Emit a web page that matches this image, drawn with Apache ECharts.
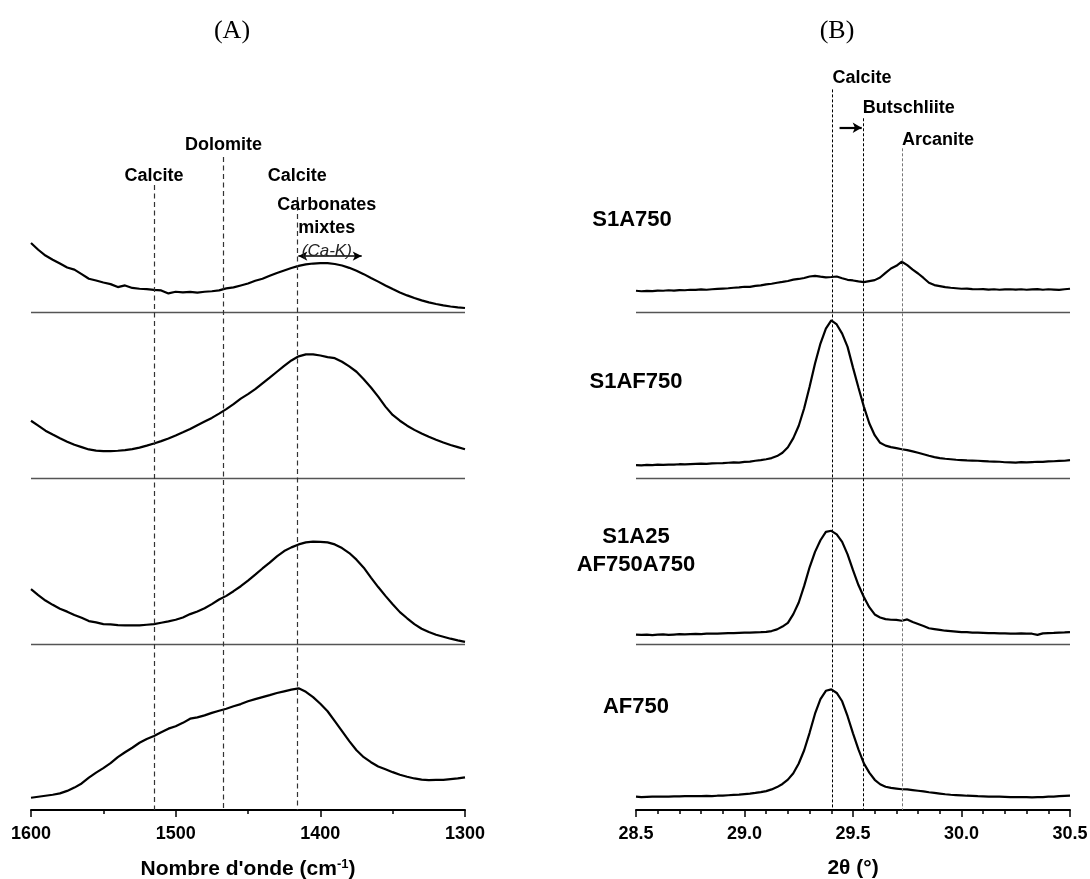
<!DOCTYPE html>
<html><head><meta charset="utf-8">
<script src="https://cdn.jsdelivr.net/npm/echarts@6/dist/echarts.min.js"></script>
<style>html,body{margin:0;padding:0;background:#fff}#c{width:1090px;height:879px}</style>
</head><body><div id="c"></div>
<script>
// ---------- DATA ----------
const sampleNames = ['S1A750', 'S1AF750', 'S1A25\nAF750A750', 'AF750'];
const stackOffsets = [3, 2, 1, 0];

// Panel A : FTIR, wavenumber (cm-1)
const ftirWavenumber = [1600,1595,1590,1585,1580,1575,1570,1565,1560,1555,1550,1545,1540,1535,1530,1525,1520,1515,1510,1505,1500,1495,1490,1485,1480,1475,1470,1465,1460,1455,1450,1445,1440,1435,1430,1425,1420,1415,1410,1405,1400,1395,1390,1385,1380,1375,1370,1365,1360,1355,1350,1345,1340,1335,1330,1325,1320,1315,1310,1305,1300];
const ftirS1A750 = [.416,.375,.340,.315,.292,.268,.255,.228,.200,.190,.178,.168,.150,.160,.145,.140,.138,.133,.130,.112,.122,.118,.121,.117,.122,.125,.130,.142,.148,.160,.172,.188,.200,.218,.235,.250,.265,.278,.287,.292,.295,.294,.289,.280,.266,.248,.228,.205,.183,.160,.138,.118,.100,.084,.070,.058,.048,.040,.033,.028,.024];
const ftirS1AF750 = [.345,.315,.285,.262,.240,.219,.200,.186,.172,.165,.162,.162,.164,.168,.174,.183,.195,.208,.222,.238,.256,.275,.295,.318,.340,.362,.388,.415,.445,.478,.505,.535,.570,.605,.640,.675,.708,.733,.745,.745,.738,.728,.722,.700,.672,.640,.595,.545,.490,.430,.380,.345,.315,.290,.268,.248,.230,.214,.199,.186,.173];
const ftirS1A25 = [.330,.295,.262,.236,.212,.195,.175,.158,.138,.130,.120,.118,.114,.112,.113,.112,.116,.120,.128,.136,.146,.160,.180,.196,.215,.240,.268,.290,.318,.348,.382,.418,.455,.490,.528,.560,.582,.600,.612,.617,.615,.612,.600,.578,.548,.508,.460,.400,.343,.290,.240,.192,.155,.120,.092,.072,.056,.044,.032,.022,.013];
const ftirAF750 = [.074,.080,.086,.092,.100,.115,.135,.160,.195,.225,.252,.282,.318,.348,.375,.405,.428,.446,.468,.490,.505,.525,.550,.558,.570,.585,.598,.610,.625,.638,.655,.668,.680,.692,.705,.715,.725,.733,.712,.680,.640,.595,.535,.475,.415,.360,.318,.288,.262,.245,.228,.212,.200,.190,.183,.180,.181,.182,.186,.190,.197];
const ftirRefPositions = [1515, 1467, 1416];
const ftirRefNames = ['Calcite', 'Dolomite', 'Calcite'];

// Panel B : XRD, 2theta (deg)
const drxTwoTheta = [28.5,28.525,28.55,28.575,28.6,28.625,28.65,28.675,28.7,28.725,28.75,28.775,28.8,28.825,28.85,28.875,28.9,28.925,28.95,28.975,29.0,29.025,29.05,29.075,29.1,29.125,29.15,29.175,29.2,29.225,29.25,29.275,29.3,29.325,29.35,29.375,29.4,29.425,29.45,29.475,29.5,29.525,29.55,29.575,29.6,29.625,29.65,29.675,29.7,29.725,29.75,29.775,29.8,29.825,29.85,29.875,29.9,29.925,29.95,29.975,30.0,30.025,30.05,30.075,30.1,30.125,30.15,30.175,30.2,30.225,30.25,30.275,30.3,30.325,30.35,30.375,30.4,30.425,30.45,30.475,30.5];
const drxS1A750 = [.128,.125,.127,.126,.129,.128,.131,.129,.132,.131,.134,.133,.136,.134,.137,.139,.141,.143,.146,.148,.152,.151,.157,.160,.166,.170,.176,.181,.187,.195,.199,.205,.214,.218,.213,.209,.211,.214,.203,.194,.190,.184,.180,.186,.192,.208,.236,.262,.278,.303,.282,.255,.232,.205,.176,.162,.156,.150,.146,.143,.140,.141,.138,.137,.138,.135,.137,.134,.136,.137,.135,.137,.134,.136,.138,.134,.137,.135,.133,.137,.140];
const drxS1AF750 = [.078,.076,.079,.078,.080,.079,.081,.080,.083,.082,.084,.085,.086,.085,.088,.089,.090,.092,.094,.093,.097,.099,.104,.108,.113,.120,.132,.152,.185,.240,.315,.420,.550,.690,.810,.900,.950,.925,.870,.790,.665,.545,.430,.330,.258,.212,.195,.186,.180,.173,.168,.160,.152,.143,.134,.126,.120,.116,.113,.110,.108,.106,.105,.104,.102,.100,.099,.098,.095,.094,.093,.096,.094,.096,.098,.097,.100,.101,.103,.104,.108];
const drxS1A25 = [.057,.055,.057,.054,.056,.058,.055,.057,.059,.058,.060,.061,.060,.062,.063,.062,.064,.065,.066,.067,.068,.069,.070,.071,.073,.078,.088,.105,.127,.180,.250,.350,.462,.555,.625,.675,.682,.660,.615,.540,.445,.355,.283,.222,.178,.160,.150,.146,.145,.140,.148,.132,.120,.108,.095,.090,.085,.080,.078,.075,.072,.071,.069,.068,.067,.066,.065,.064,.064,.063,.062,.064,.063,.062,.055,.064,.066,.067,.069,.070,.072];
const drxAF750 = [.080,.078,.079,.080,.080,.081,.081,.082,.082,.083,.083,.084,.084,.085,.084,.086,.087,.089,.091,.093,.096,.099,.103,.108,.114,.124,.138,.157,.183,.221,.280,.360,.465,.580,.668,.718,.727,.705,.655,.565,.462,.365,.281,.225,.182,.155,.140,.133,.129,.125,.124,.120,.116,.112,.107,.103,.099,.095,.092,.090,.088,.086,.085,.083,.082,.081,.080,.080,.079,.078,.078,.077,.077,.076,.077,.078,.080,.081,.083,.085,.086];
const drxRefPositions = [29.405, 29.545, 29.726];
const drxRefNames = ['Calcite', 'Butschliite', 'Arcanite'];

// ---------- CHART ----------
const FONT = 'Liberation Sans, Arial, sans-serif';
const ftirTraces = [ftirS1A750, ftirS1AF750, ftirS1A25, ftirAF750];
const drxTraces = [drxS1A750, drxS1AF750, drxS1A25, drxAF750];
const pairs = (xs, ys, off) => xs.map((x, i) => [x, ys[i] + off]);

const ftirLineTop = [3.765, 3.934, 3.693];
const drxLineTop = [4.341, 4.167, 3.986];

function baselineItems(x0, x1) {
  return [1, 2, 3].map(v => [
    {coord: [x0, v], lineStyle: {color: '#555', width: 1.3, type: 'solid'}},
    {coord: [x1, v]}
  ]);
}

const labelBase = {show: true, color: '#000', fontFamily: FONT, fontWeight: 'bold', fontSize: 18, formatter: '{b}'};

const series = [];
ftirTraces.forEach((t, i) => {
  const s = {
    type: 'line', name: sampleNames[i], xAxisIndex: 0, yAxisIndex: 0,
    data: pairs(ftirWavenumber, t, stackOffsets[i]),
    showSymbol: false, symbol: 'none', silent: true,
    lineStyle: {color: '#000', width: 2.2}
  };
  if (i === 0) {
    s.markLine = {
      silent: true, symbol: ['none', 'none'], label: {show: false}, animation: false,
      lineStyle: {color: '#333', width: 1.2, type: [5, 3.5]},
      data: baselineItems(1600, 1300).concat(
        ftirRefPositions.map((p, k) => [{coord: [p, ftirLineTop[k]]}, {coord: [p, 0]}]),
        [[{coord: [1415.2, 3.337], symbol: 'arrow', symbolSize: [7, 9], lineStyle: {color: '#000', width: 1.5, type: 'solid'}},
          {coord: [1371.4, 3.337], symbol: 'arrow', symbolSize: [7, 9]}]]
      )
    };
    s.markPoint = {
      silent: true, symbol: 'circle', symbolSize: 1, itemStyle: {color: 'rgba(0,0,0,0)'}, animation: false,
      label: Object.assign({}, labelBase, {position: 'inside'}),
      data: [
        {name: ftirRefNames[0], coord: [ftirRefPositions[0], 3.819]},
        {name: ftirRefNames[1], coord: [ftirRefPositions[1], 4.003]},
        {name: ftirRefNames[2], coord: [ftirRefPositions[2], 3.819]},
        {name: 'Carbonates\nmixtes\n{i|(Ca-K)}', coord: [1395.5, 3.506],
          label: {lineHeight: 23, rich: {i: {fontStyle: 'italic', fontWeight: 'normal', fontSize: 17, color: '#222', fontFamily: FONT}}}}
      ]
    };
  }
  series.push(s);
});

drxTraces.forEach((t, i) => {
  const s = {
    type: 'line', name: sampleNames[i], xAxisIndex: 1, yAxisIndex: 1,
    data: pairs(drxTwoTheta, t, stackOffsets[i]),
    showSymbol: false, symbol: 'none', silent: true,
    lineStyle: {color: '#000', width: 2.2}
  };
  if (i === 0) {
    s.markLine = {
      silent: true, symbol: ['none', 'none'], label: {show: false}, animation: false,
      lineStyle: {color: '#000', width: 1, type: [3, 2]},
      data: baselineItems(28.5, 30.5).concat(
        drxRefPositions.map((p, k) => [{coord: [p, drxLineTop[k]], lineStyle: k === 2 ? {color: '#777'} : {}}, {coord: [p, 0]}]),
        [[{coord: [29.438, 4.11], symbol: 'none', lineStyle: {color: '#000', width: 2.2, type: 'solid'}},
          {coord: [29.54, 4.11], symbol: 'arrow', symbolSize: [8, 9]}]]
      )
    };
    s.markPoint = {
      silent: true, symbol: 'circle', symbolSize: 1, itemStyle: {color: 'rgba(0,0,0,0)'}, animation: false,
      label: Object.assign({}, labelBase, {position: 'inside'}),
      data: [
        {name: drxRefNames[0], coord: [drxRefPositions[0], 4.408], label: {align: 'left'}},
        {name: drxRefNames[1], coord: [drxRefPositions[1], 4.230], label: {align: 'left'}},
        {name: drxRefNames[2], coord: [drxRefPositions[2], 4.038], label: {align: 'left'}},
        {name: sampleNames[0], coord: [28.5, 3.554], label: {fontSize: 22, offset: [-4, 0]}},
        {name: sampleNames[1], coord: [28.5, 2.580], label: {fontSize: 22}},
        {name: sampleNames[2], coord: [28.5, 1.559], label: {fontSize: 22, lineHeight: 28}},
        {name: sampleNames[3], coord: [28.5, 0.622], label: {fontSize: 22}}
      ]
    };
  }
  series.push(s);
});

function xAxisCfg(extra) {
  return Object.assign({
    type: 'value', nameLocation: 'middle', nameGap: 48,
    nameTextStyle: {color: '#000', fontFamily: FONT, fontWeight: 'bold', fontSize: 21,
      rich: {sup: {fontSize: 13, fontWeight: 'bold', fontFamily: FONT, color: '#000', verticalAlign: 'top', padding: [0, 0, 10, 0]}}},
    axisLine: {show: true, onZero: false, lineStyle: {color: '#000', width: 2}},
    axisTick: {show: true, length: 7, inside: false, lineStyle: {color: '#000', width: 1.5}},
    splitLine: {show: false}, minorSplitLine: {show: false}
  }, extra);
}
const axisLabelBase = {color: '#000', fontFamily: FONT, fontWeight: 'bold', fontSize: 18, margin: 15, showMinLabel: true, showMaxLabel: true};

const option = {
  animation: false,
  backgroundColor: '#fff',
  graphic: [
    {type: 'text', x: 232, y: 31, style: {text: '(A)', font: '26px "Liberation Serif", "Times New Roman", serif', fill: '#000', textAlign: 'center', textVerticalAlign: 'middle'}},
    {type: 'text', x: 837, y: 31, style: {text: '(B)', font: '26px "Liberation Serif", "Times New Roman", serif', fill: '#000', textAlign: 'center', textVerticalAlign: 'middle'}}
  ],
  grid: [
    {left: 31, top: 63, width: 434, height: 747, containLabel: false, outerBoundsMode: 'none'},
    {left: 636, top: 63, width: 434, height: 747, containLabel: false, outerBoundsMode: 'none'}
  ],
  xAxis: [
    xAxisCfg({gridIndex: 0, min: 1300, max: 1600, interval: 100, inverse: true,
      minorTick: {show: true, splitNumber: 2, length: 4, lineStyle: {color: '#000', width: 1.5}},
      axisLabel: Object.assign({formatter: v => String(v)}, axisLabelBase),
      name: "Nombre d'onde (cm{sup|-1})"}),
    xAxisCfg({gridIndex: 1, min: 28.5, max: 30.5, interval: 0.5,
      minorTick: {show: true, splitNumber: 5, length: 4, lineStyle: {color: '#000', width: 1.5}},
      axisLabel: Object.assign({formatter: v => v.toFixed(1)}, axisLabelBase),
      name: '2θ (°)'})
  ],
  yAxis: [
    {type: 'value', gridIndex: 0, min: 0, max: 4.5, show: false},
    {type: 'value', gridIndex: 1, min: 0, max: 4.5, show: false}
  ],
  series: series
};

const chart = echarts.init(document.getElementById('c'), null, {renderer: 'canvas'});
chart.setOption(option);
</script>
</body></html>
